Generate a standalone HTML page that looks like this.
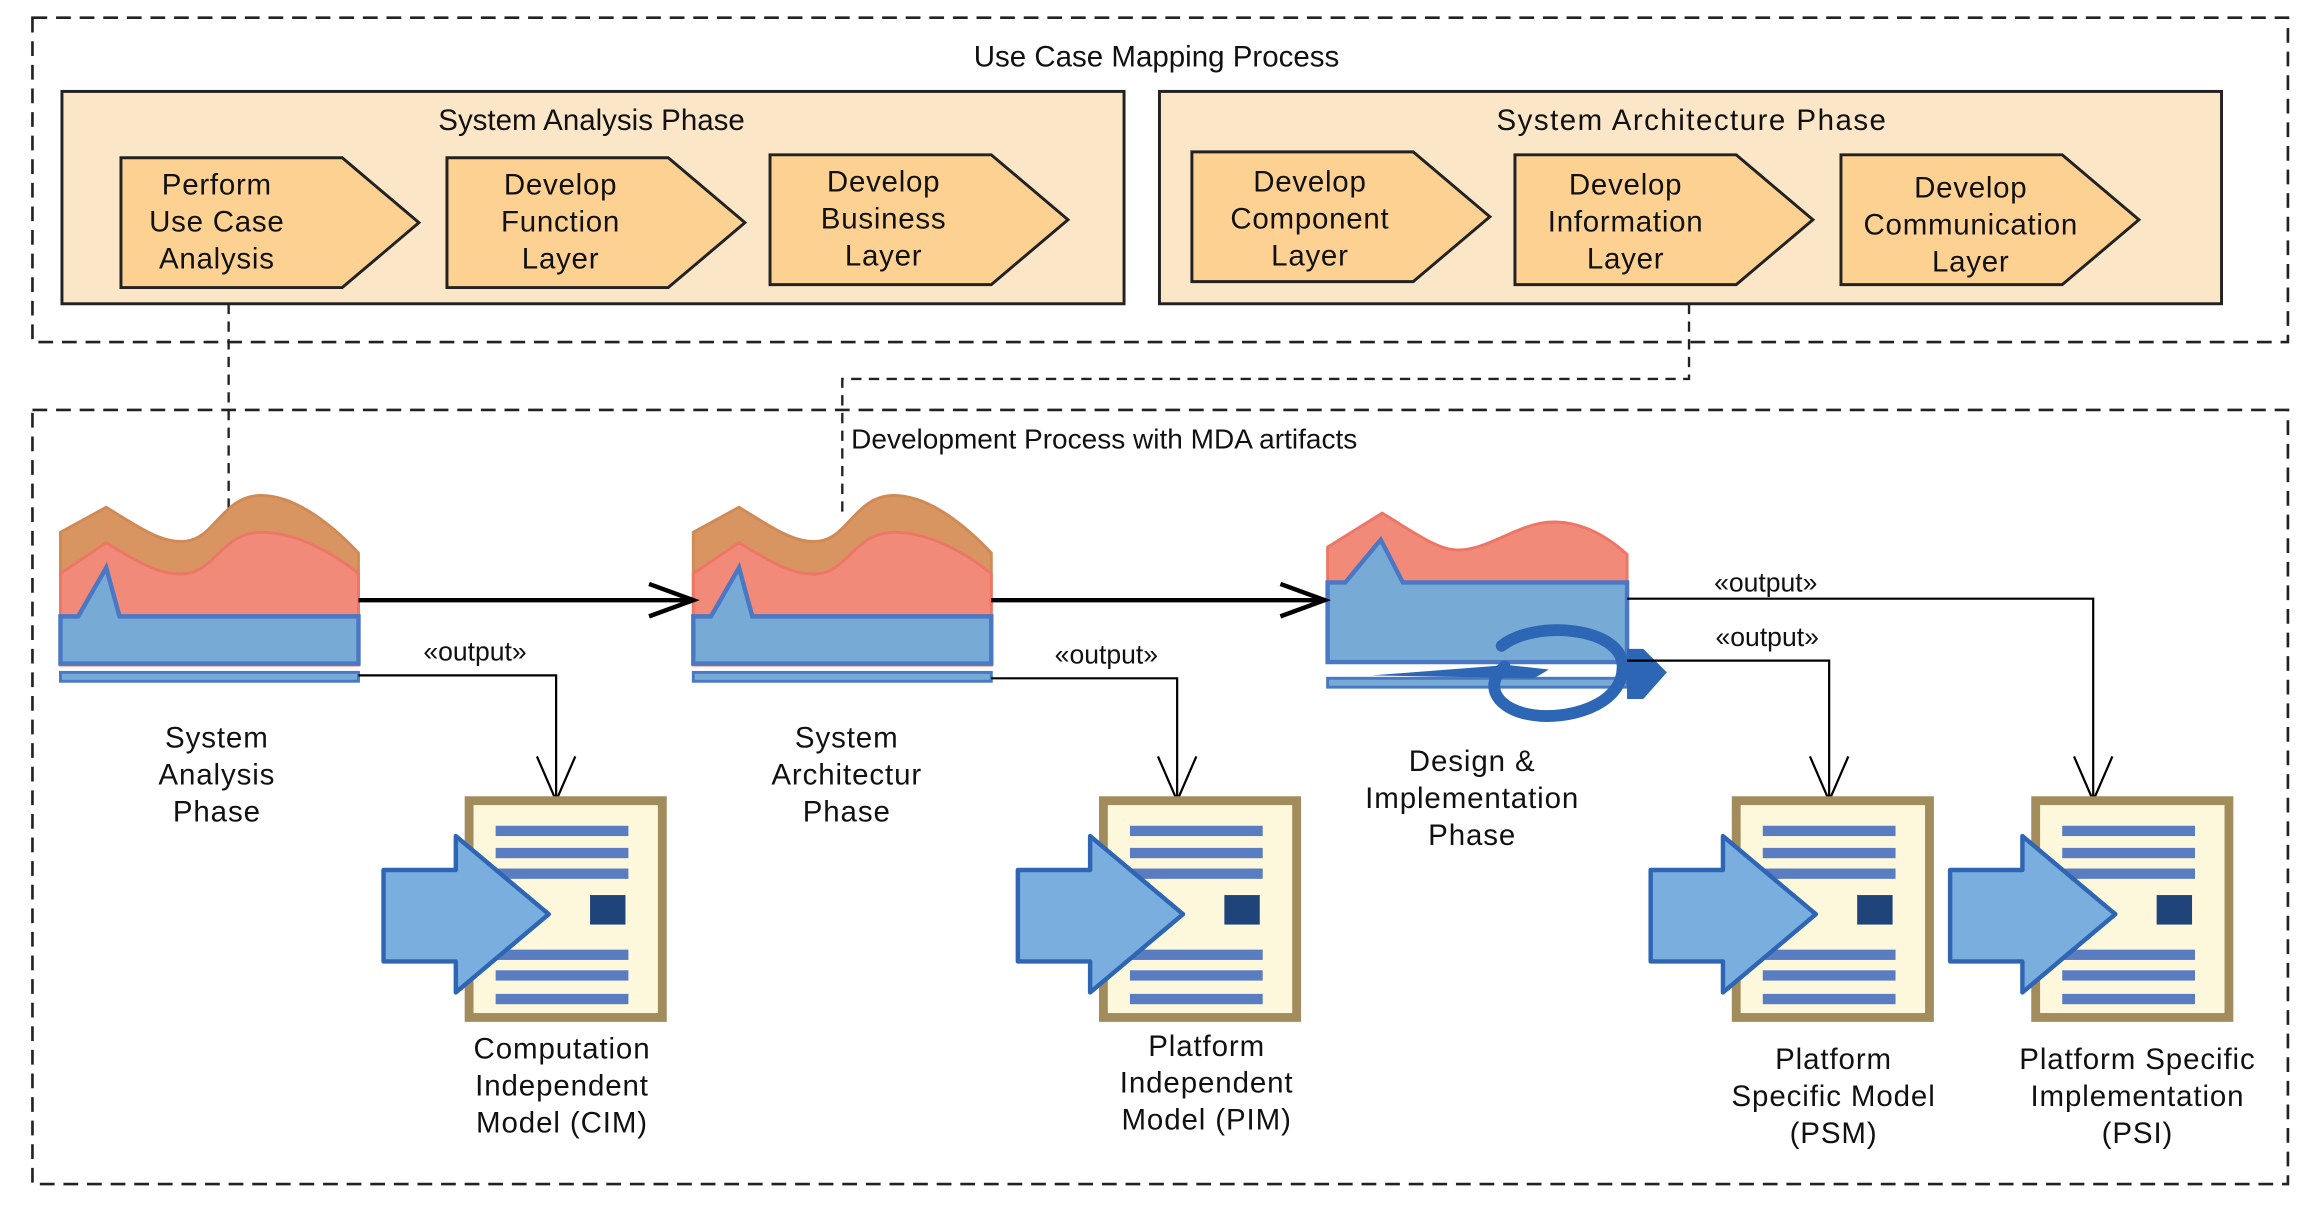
<!DOCTYPE html>
<html><head><style>html,body{margin:0;padding:0;background:#fff}svg{display:block}text{font-family:"Liberation Sans",sans-serif;fill:#111}</style></head><body>
<svg width="2313" height="1218" viewBox="0 0 1568 826" preserveAspectRatio="none" xmlns="http://www.w3.org/2000/svg">
<defs>
<g id="pent"><polygon points="0,0 150,0 202,44 150,88 0,88" fill="#fdd192" stroke="#222" stroke-width="2"/></g>
<g id="doc">
<rect x="0" y="0" width="131" height="147" fill="#fdf8dc" stroke="#a38c5b" stroke-width="6"/>
<g fill="#5a7cc0"><rect x="18" y="17" width="90" height="7"/><rect x="18" y="32" width="90" height="7"/><rect x="18" y="46" width="90" height="7"/><rect x="18" y="101" width="90" height="7"/><rect x="18" y="115" width="90" height="7"/><rect x="18" y="131" width="90" height="7"/></g>
<rect x="82" y="64" width="24" height="20" fill="#1f4479"/>
<polygon points="-58,47 -9,47 -9,24 54,77 -9,130 -9,109 -58,109" fill="#79aede" stroke="#2e66b3" stroke-width="3" stroke-linejoin="round"/>
</g>
<g id="phase">
<path d="M0,16 L31,-1 C55,14 70,24 85,22 C105,20 110,-9 136,-9 C160,-9 185,12 202,30 L202,73 L0,73 Z" fill="#d99561" stroke="#d08a55" stroke-width="2"/>
<path d="M0,44 L31,23 C55,38 70,46 85,44 C105,42 110,16 136,16 C160,16 185,30 202,44 L202,106 L0,106 Z" fill="#f28a7a" stroke="#ec7766" stroke-width="2"/>
<path d="M0,73 L12,73 L31,40 L40,73 L202,73 L202,105 L0,105 Z" fill="#78aad6" stroke="#4a78c4" stroke-width="3"/>
<rect x="0" y="111" width="202" height="6" fill="#78aad6" stroke="#4a78c4" stroke-width="2"/>
</g>
<marker id="oa" markerWidth="14" markerHeight="14" refX="13" refY="7" orient="auto" markerUnits="userSpaceOnUse"><path d="M0,0 L13,7 L0,14" fill="none" stroke="#000" stroke-width="1.5"/></marker>
</defs>
<!-- top -->
<rect x="22" y="12" width="1529" height="220" fill="none" stroke="#222" stroke-width="1.8" stroke-dasharray="10,6"/>
<text x="784" y="45" font-size="20" text-anchor="middle">Use Case Mapping Process</text>
<rect x="42" y="62" width="720" height="144" fill="#fce6c8" stroke="#222" stroke-width="2"/>
<rect x="786" y="62" width="720" height="144" fill="#fce6c8" stroke="#222" stroke-width="2"/>
<text x="401" y="88" font-size="20" text-anchor="middle">System Analysis Phase</text>
<text x="1147" y="88" font-size="20" text-anchor="middle" letter-spacing="1">System Architecture Phase</text>
<use href="#pent" x="82" y="107"/><use href="#pent" x="303" y="107"/><use href="#pent" x="522" y="105"/>
<use href="#pent" x="808" y="103"/><use href="#pent" x="1027" y="105"/><use href="#pent" x="1248" y="105"/>
<g font-size="20" text-anchor="middle" letter-spacing="0.5">
<text x="147" y="132">Perform</text><text x="147" y="157">Use Case</text><text x="147" y="182">Analysis</text>
<text x="380" y="132">Develop</text><text x="380" y="157">Function</text><text x="380" y="182">Layer</text>
<text x="599" y="130">Develop</text><text x="599" y="155">Business</text><text x="599" y="180">Layer</text>
<text x="888" y="130">Develop</text><text x="888" y="155">Component</text><text x="888" y="180">Layer</text>
<text x="1102" y="132">Develop</text><text x="1102" y="157">Information</text><text x="1102" y="182">Layer</text>
<text x="1336" y="134">Develop</text><text x="1336" y="159">Communication</text><text x="1336" y="184">Layer</text>
</g>
<!-- bottom -->
<rect x="22" y="278" width="1529" height="525" fill="none" stroke="#222" stroke-width="1.8" stroke-dasharray="10,6"/>
<text x="577" y="304" font-size="19">Development Process with MDA artifacts</text>
<path d="M155,206 V345" stroke="#222" stroke-width="1.6" stroke-dasharray="7,5" fill="none"/>
<path d="M1145,206 V257 H571 V348" stroke="#222" stroke-width="1.6" stroke-dasharray="7,5" fill="none"/>
<use href="#phase" x="41" y="345"/>
<use href="#phase" x="470" y="345"/>
<!-- design icon -->
<g>
<path d="M900,371 L937,348 C960,362 975,373 988,373 C1010,373 1030,354 1053,354 C1075,354 1092,366 1103,376 L1103,400 L900,400 Z" fill="#f28a7a" stroke="#ec7766" stroke-width="2"/>
<path d="M900,395 L912,395 L936,366 L951,395 L1103,395 L1103,449 L900,449 Z" fill="#78aad6" stroke="#4a78c4" stroke-width="3"/>
<rect x="900" y="460" width="203" height="6" fill="#78aad6" stroke="#4a78c4" stroke-width="2"/>
<path d="M930,458 L1022,451 L1050,454 L1040,460 Z" fill="#2c66b4"/>
<path d="M1018,438 C1040,420 1100,425 1100,452 C1100,480 1060,488 1040,485 C1015,482 1005,465 1020,452" fill="none" stroke="#2c66b4" stroke-width="8" stroke-linecap="round"/>
<polygon points="1103,440 1114,440 1130,456 1114,474 1103,474" fill="#2c66b4"/>
</g>
<!-- flows -->
<path d="M243,407 H468" stroke="#000" stroke-width="3" fill="none"/>
<path d="M440,396 L470,407 L440,418" stroke="#000" stroke-width="3" fill="none"/>
<path d="M672,407 H896" stroke="#000" stroke-width="3" fill="none"/>
<path d="M868,396 L898,407 L868,418" stroke="#000" stroke-width="3" fill="none"/>
<g stroke="#000" stroke-width="1.5" fill="none">
<path d="M243,458 H377 V543"/><path d="M364,513 L377,543 L390,513"/>
<path d="M672,460 H798 V543"/><path d="M785,513 L798,543 L811,513"/>
<path d="M1103,406 H1419 V543"/><path d="M1406,513 L1419,543 L1432,513"/>
<path d="M1103,448 H1240 V543"/><path d="M1227,513 L1240,543 L1253,513"/>
</g>
<g font-size="18" text-anchor="middle">
<text x="322" y="448">«output»</text><text x="750" y="450">«output»</text>
<text x="1197" y="401">«output»</text><text x="1198" y="438">«output»</text>
</g>
<use href="#doc" x="318" y="543"/><use href="#doc" x="748" y="543"/>
<use href="#doc" x="1177" y="543"/><use href="#doc" x="1380" y="543"/>
<g font-size="20" text-anchor="middle" letter-spacing="0.6">
<text x="147" y="507">System</text><text x="147" y="532">Analysis</text><text x="147" y="557">Phase</text>
<text x="574" y="507">System</text><text x="574" y="532">Architectur</text><text x="574" y="557">Phase</text>
<text x="998" y="523">Design &amp;</text><text x="998" y="548">Implementation</text><text x="998" y="573">Phase</text>
<text x="381" y="718">Computation</text><text x="381" y="743">Independent</text><text x="381" y="768">Model (CIM)</text>
<text x="818" y="716">Platform</text><text x="818" y="741">Independent</text><text x="818" y="766">Model (PIM)</text>
<text x="1243" y="725">Platform</text><text x="1243" y="750">Specific Model</text><text x="1243" y="775">(PSM)</text>
<text x="1449" y="725">Platform Specific</text><text x="1449" y="750">Implementation</text><text x="1449" y="775">(PSI)</text>
</g>
</svg>
</body></html>
